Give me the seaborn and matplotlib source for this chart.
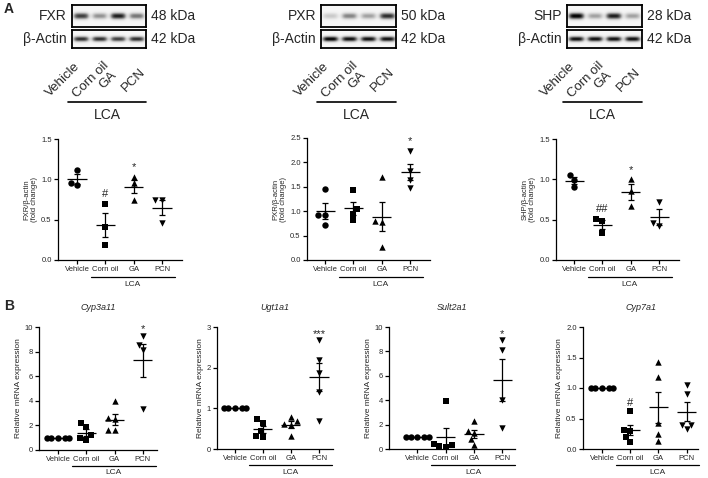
import numpy as np
import pandas as pd
import seaborn as sns
import matplotlib.pyplot as plt

W, H = 708, 478

groups = ["Vehicle", "Corn oil", "GA", "PCN"]
markers = ["o", "s", "^", "v"]

# blot band darkness per lane (Vehicle, Corn oil, GA, PCN)
fxr_band = [0.75, 0.45, 0.85, 0.55]
pxr_band = [0.25, 0.5, 0.4, 0.8]
shp_band = [0.95, 0.4, 0.85, 0.4]
actin_fxr = [0.8, 0.8, 0.75, 0.8]
actin_pxr = [0.95, 0.9, 0.9, 0.9]
actin_shp = [0.9, 0.9, 0.9, 0.9]

# protein / beta-actin (fold change)
fxr_q = [[1.12, 0.93, 0.95], [0.70, 0.41, 0.19], [1.03, 0.95, 0.75], [0.74, 0.75, 0.46]]
pxr_q = [[1.46, 0.92, 0.93, 0.72], [1.44, 1.05, 0.95, 0.82], [1.70, 0.77, 0.80, 0.27], [2.24, 1.83, 1.63, 1.48]]
shp_q = [[1.05, 0.99, 0.90], [0.51, 0.48, 0.33], [1.00, 0.86, 0.67], [0.72, 0.46, 0.42]]

# relative mRNA expression
cyp3a11 = [[1, 1, 1, 1, 1], [2.2, 1.85, 1.2, 0.95, 0.8], [4.0, 2.6, 2.5, 1.6, 1.6], [9.3, 8.5, 8.1, 3.3]]
ugt1a1 = [[1, 1, 1, 1, 1], [0.73, 0.64, 0.45, 0.30, 0.32], [0.78, 0.68, 0.62, 0.60, 0.33], [2.68, 2.19, 1.86, 1.41, 0.70]]
sult2a1 = [[1, 1, 1, 1, 1], [3.9, 0.4, 0.25, 0.3, 0.2], [2.3, 1.45, 1.3, 0.8, 0.35], [8.93, 8.1, 4.0, 1.7]]
cyp7a1 = [[1, 1, 1, 1, 1], [0.63, 0.31, 0.30, 0.20, 0.12], [1.42, 1.18, 0.43, 0.25, 0.13], [1.05, 0.90, 0.40, 0.40, 0.32]]

fxr_sig = ["", "#", "*", ""]
pxr_sig = ["", "", "", "*"]
shp_sig = ["", "##", "*", ""]
cyp3a11_sig = ["", "", "", "*"]
ugt1a1_sig = ["", "", "", "***"]
sult2a1_sig = ["", "", "", "*"]
cyp7a1_sig = ["", "#", "", ""]

sns.set_style("ticks")
plt.rcParams["font.family"] = ["Liberation Sans", "DejaVu Sans"]

fig = plt.figure(figsize=(W / 100, H / 100), dpi=100)


def ax_px(x0, y0, x1, y1):
    return fig.add_axes([x0 / W, 1 - y1 / H, (x1 - x0) / W, (y1 - y0) / H])


def draw_blot(x0, y0, x1, y1, bands):
    ax = ax_px(x0, y0, x1, y1)
    nx, ny = 160, 40
    xs = (np.arange(nx) + 0.5) / nx * 4 - 0.5
    ys = np.linspace(-1, 1, ny)
    img = np.full((ny, nx), 0.07)
    for i, b in enumerate(bands):
        px = np.exp(-((xs - i) / 0.42) ** 4)
        py = np.exp(-(ys / 0.3) ** 2)
        img += b * np.outer(py, px)
    ax.imshow(img, cmap="Greys", vmin=0, vmax=1, aspect="auto", interpolation="bilinear")
    ax.set_xticks([])
    ax.set_yticks([])
    for s in ax.spines.values():
        s.set_visible(True)
        s.set_linewidth(1.3)
        s.set_color("black")


def blot_group(x0, x1, name, kda, bands, actin):
    draw_blot(x0, 5, x1, 27, bands)
    draw_blot(x0, 30, x1, 48, actin)
    fig.text((x0 - 5) / W, 1 - 16 / H, name, ha="right", va="center", fontsize=10)
    fig.text((x0 - 5) / W, 1 - 39 / H, "β-Actin", ha="right", va="center", fontsize=10)
    fig.text((x1 + 5) / W, 1 - 16 / H, kda, ha="left", va="center", fontsize=10)
    fig.text((x1 + 5) / W, 1 - 39 / H, "42 kDa", ha="left", va="center", fontsize=10)
    for g, dx in zip(groups, [-9, 19, 36, 62]):
        fig.text((x0 + dx) / W, 1 - 80 / H, g, ha="center", va="center",
                 rotation=45, fontsize=9.5)
    fig.add_artist(plt.Line2D([(x0 - 4) / W, x1 / W], [1 - 102 / H] * 2,
                              color="black", lw=1.2))
    fig.text((x0 + x1 - 4) / 2 / W, 1 - 115 / H, "LCA", ha="center", va="center", fontsize=10)


def dot_plot(rect, data, sig, ylim, yticks, fmt, ylabel, xlim, title=None,
             sig_off=0.08, fs=5.5, yfs=5.5, lca_gap=(17, 24)):
    ax = ax_px(*rect)
    df = pd.DataFrame([(g, v) for g, vals in zip(groups, data) for v in vals],
                      columns=["group", "value"])
    for g, m in zip(groups, markers):
        sns.swarmplot(data=df[df.group == g], x="group", y="value", order=groups,
                      marker=m, color="black", size=4.6, ax=ax, zorder=3)
    for i, vals in enumerate(data):
        v = np.array(vals, dtype=float)
        mean = v.mean()
        sem = v.std(ddof=1) / np.sqrt(len(v))
        ax.hlines(mean, i - 0.34, i + 0.34, color="black", lw=0.9, zorder=4)
        ax.errorbar(i, mean, yerr=sem, fmt="none", ecolor="black", elinewidth=0.9,
                    capsize=2.3, capthick=0.9, zorder=4)
        if sig[i]:
            ax.text(i, max(vals) + sig_off * ylim[1], sig[i], ha="center", va="center",
                    fontsize=8)
    ax.set_ylim(*ylim)
    ax.set_xlim(*xlim)
    ax.set_yticks(yticks)
    ax.set_yticklabels([fmt.format(t) for t in yticks], fontsize=fs)
    ax.set_xticks(range(4))
    ax.set_xticklabels(groups, fontsize=fs)
    ax.set_xlabel("")
    ax.set_ylabel(ylabel, fontsize=yfs, labelpad=2)
    ax.tick_params(length=3, width=0.9, pad=1.5, color="black")
    sns.despine(ax=ax)
    for s in ["left", "bottom"]:
        ax.spines[s].set_linewidth(0.9)
        ax.spines[s].set_color("black")
    hpx = rect[3] - rect[1]
    tr = ax.get_xaxis_transform()
    ax.plot([1 - 0.5, 3 + 0.45], [-lca_gap[0] / hpx] * 2, transform=tr, color="black",
            lw=0.9, clip_on=False)
    ax.text(1.97, -lca_gap[1] / hpx, "LCA", transform=tr, ha="center", va="center",
            fontsize=6)
    if title:
        ax.set_title(title, fontsize=6.5, style="italic", pad=12)
    return ax


fig.text(4 / W, 1 - 9 / H, "A", fontsize=10, fontweight="bold", ha="left", va="center")
fig.text(4 / W, 1 - 306 / H, "B", fontsize=10, fontweight="bold", ha="left", va="center")

blot_group(72, 146, "FXR", "48 kDa", fxr_band, actin_fxr)
blot_group(321, 396, "PXR", "50 kDa", pxr_band, actin_pxr)
blot_group(567, 642, "SHP", "28 kDa", shp_band, actin_shp)

a_ticks = [0.0, 0.5, 1.0, 1.5]
dot_plot((58, 139, 182, 260), fxr_q, fxr_sig, (0, 1.5), a_ticks, "{:.1f}",
         "FXR/β-actin\n(fold change)", (-0.67, 3.7))
dot_plot((307, 138, 430, 260), pxr_q, pxr_sig, (0, 2.5), [0.0, 0.5, 1.0, 1.5, 2.0, 2.5],
         "{:.1f}", "PXR/β-actin\n(fold change)", (-0.64, 3.7))
dot_plot((556, 139, 679, 260), shp_q, shp_sig, (0, 1.5), a_ticks, "{:.1f}",
         "SHP/β-actin\n(fold change)", (-0.64, 3.7))

ylab = "Relative mRNA expression"
dot_plot((39, 327, 157, 450), cyp3a11, cyp3a11_sig, (0, 10), [0, 2, 4, 6, 8, 10], "{:g}",
         ylab, (-0.67, 3.5), title="Cyp3a11", sig_off=0.05, yfs=6, lca_gap=(16, 23))
dot_plot((217, 327, 333, 449), ugt1a1, ugt1a1_sig, (0, 3), [0, 1, 2, 3], "{:g}",
         ylab, (-0.64, 3.5), title="Ugt1a1", sig_off=0.05, yfs=6, lca_gap=(16, 23))
dot_plot((389, 327, 515, 449), sult2a1, sult2a1_sig, (0, 10), [0, 2, 4, 6, 8, 10], "{:g}",
         ylab, (-1.0, 3.45), title="Sult2a1", sig_off=0.05, yfs=6, lca_gap=(16, 23))
dot_plot((583, 327, 698, 449), cyp7a1, cyp7a1_sig, (0, 2.0), [0.0, 0.5, 1.0, 1.5, 2.0], "{:.1f}",
         ylab, (-0.67, 3.4), title="Cyp7a1", sig_off=0.065, yfs=6, lca_gap=(16, 23))

fig.savefig("out.png", dpi=100)
plt.close(fig)
